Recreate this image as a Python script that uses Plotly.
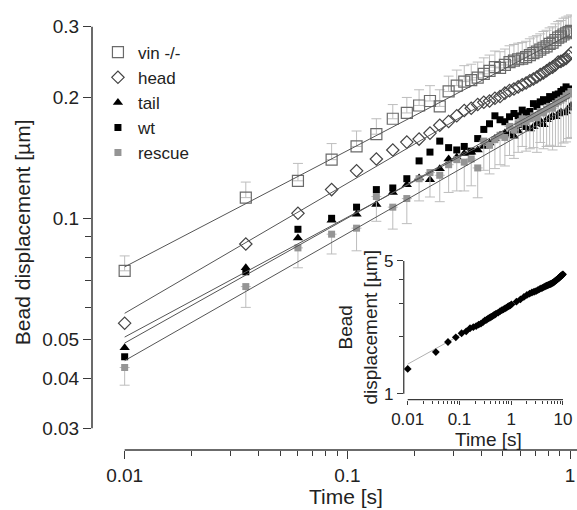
import math
import plotly.graph_objects as go

# ---------------- data ----------------
t_main = [0.01, 0.035, 0.06, 0.085, 0.11, 0.135, 0.16, 0.185, 0.21, 0.235, 0.26, 0.285, 0.31,
          0.335, 0.36, 0.385, 0.41, 0.435, 0.46, 0.485, 0.51, 0.535, 0.56, 0.585, 0.61, 0.635,
          0.66, 0.685, 0.71, 0.735, 0.76, 0.785, 0.81, 0.835, 0.86, 0.885, 0.91, 0.935, 0.96,
          0.985, 1.01]

vin = [0.074, 0.1126, 0.124, 0.140, 0.151, 0.162, 0.177, 0.183, 0.191, 0.196, 0.190, 0.207,
       0.214, 0.219, 0.221, 0.224, 0.229, 0.233, 0.238, 0.237, 0.241, 0.245, 0.247, 0.249,
       0.250, 0.252, 0.255, 0.258, 0.260, 0.263, 0.266, 0.268, 0.272, 0.274, 0.278, 0.282,
       0.284, 0.287, 0.289, 0.291, 0.293]
vin_err = [0.0066, 0.0105, 0.013, 0.0135, 0.014, 0.015, 0.015, 0.017, 0.018, 0.018, 0.019,
           0.019, 0.020, 0.021, 0.021, 0.021, 0.022, 0.022, 0.023, 0.023, 0.023, 0.024, 0.024,
           0.024, 0.024, 0.024, 0.025, 0.025, 0.025, 0.025, 0.026, 0.026, 0.026, 0.026, 0.027,
           0.027, 0.027, 0.028, 0.028, 0.028, 0.028]
head = [0.0548, 0.0863, 0.1029, 0.1179, 0.1313, 0.1405, 0.148, 0.1548, 0.1575, 0.163, 0.1705,
        0.1743, 0.180, 0.1856, 0.188, 0.192, 0.1945, 0.196, 0.199, 0.201, 0.205, 0.208, 0.210,
        0.2125, 0.215, 0.2174, 0.220, 0.2223, 0.225, 0.228, 0.2302, 0.233, 0.236, 0.238, 0.241,
        0.245, 0.246, 0.248, 0.250, 0.254, 0.258]
tail = [0.0476, 0.0753, 0.0893, 0.0989, 0.1023, 0.1083, 0.1159, 0.1212, 0.126, 0.1247, 0.1328,
        0.1405, 0.142, 0.145, 0.146, 0.148, 0.151, 0.154, 0.158, 0.161, 0.163, 0.162, 0.160,
        0.165, 0.170, 0.168, 0.167, 0.169, 0.172, 0.175, 0.171, 0.176, 0.178, 0.180, 0.179,
        0.182, 0.184, 0.183, 0.1845, 0.188, 0.191]
wt = [0.0452, 0.0736, 0.0939, 0.100, 0.1066, 0.1179, 0.119, 0.1255, 0.139, 0.1462, 0.1557,
      0.150, 0.148, 0.151, 0.147, 0.158, 0.1665, 0.172, 0.180, 0.176, 0.174, 0.179, 0.1824,
      0.180, 0.186, 0.183, 0.1845, 0.193, 0.190, 0.195, 0.1975, 0.196, 0.201, 0.199, 0.203,
      0.204, 0.207, 0.209, 0.2125, 0.210, 0.208]
rescue = [0.0425, 0.0676, 0.0844, 0.0913, 0.0945, 0.1133, 0.1066, 0.112, 0.1255, 0.130, 0.128,
          0.136, 0.140, 0.138, 0.1405, 0.1335, 0.1557, 0.152, 0.157, 0.161, 0.159, 0.1694,
          0.166, 0.172, 0.177, 0.174, 0.177, 0.180, 0.178, 0.1845, 0.183, 0.187, 0.190, 0.188,
          0.193, 0.195, 0.197, 0.199, 0.202, 0.204, 0.207]
rescue_err = [0.0041, 0.0076, 0.0091, 0.0098, 0.0115, 0.015, 0.0126, 0.015, 0.015, 0.017,
              0.018, 0.020, 0.023, 0.021, 0.020, 0.021, 0.024, 0.023, 0.024, 0.025, 0.024,
              0.026, 0.025, 0.026, 0.026, 0.027, 0.028, 0.030, 0.032, 0.030, 0.034, 0.036,
              0.038, 0.040, 0.042, 0.044, 0.046, 0.045, 0.047, 0.046, 0.048]

# power-law fit lines (end points)
fit_t = [0.01, 1.0]
vin_fit = [0.0757, 0.287]
head_fit = [0.058, 0.2576]
tail_fit = [0.0489, 0.205]
wt_fit = [0.0506, 0.200]
rescue_fit = [0.0442, 0.190]

# inset
inset_t = [0.01, 0.035, 0.06, 0.085, 0.11, 0.135,
           0.16, 0.185, 0.21, 0.235, 0.26, 0.285, 0.31, 0.335, 0.36, 0.385, 0.41, 0.435, 0.46,
           0.485, 0.51,
           0.56, 0.61, 0.66, 0.71, 0.76, 0.81, 0.86, 0.91, 0.96, 1.01,
           1.26, 1.51, 1.76, 2.01, 2.26, 2.51, 2.76, 3.01, 3.26, 3.51, 3.76, 4.01, 4.26, 4.51,
           4.76, 5.01, 5.26, 5.51, 5.76, 6.01, 6.26, 6.51, 6.76, 7.01, 7.26, 7.51, 7.76, 8.01,
           8.26, 8.51, 8.76, 9.01, 9.26, 9.51, 9.76, 10.01]
inset_v = [1.35, 1.655, 1.87, 1.98, 2.08, 2.13,
           2.21, 2.24, 2.27, 2.31, 2.34, 2.38, 2.43, 2.45, 2.49, 2.51, 2.54, 2.56, 2.59,
           2.61, 2.64,
           2.67, 2.72, 2.75, 2.78, 2.81, 2.84, 2.87, 2.90, 2.92, 2.95,
           3.05, 3.14, 3.23, 3.31, 3.36, 3.41, 3.44, 3.47, 3.51, 3.55, 3.58, 3.61, 3.64, 3.67,
           3.70, 3.72, 3.74, 3.76, 3.78, 3.80, 3.83, 3.85, 3.88, 3.91, 3.94, 3.97, 4.00, 4.03,
           4.06, 4.09, 4.12, 4.15, 4.18, 4.20, 4.23, 4.25]
inset_fit_t = [0.01, 10.0]
inset_fit = [1.43, 4.06]

x_ticks = [0.01, 0.1, 1]
x_ticktext = ["0.01", "0.1", "1"]
x_minor = [0.02, 0.03, 0.04, 0.05, 0.06, 0.07, 0.08, 0.09, 0.2, 0.3, 0.4, 0.5, 0.6, 0.7, 0.8, 0.9]
y_ticks = [0.03, 0.04, 0.05, 0.1, 0.2, 0.3]
y_ticktext = ["0.03", "0.04", "0.05", "0.1", "0.2", "0.3"]
y_minor = [0.06, 0.07, 0.08, 0.09]
ix_ticks = [0.01, 0.1, 1, 10]
ix_ticktext = ["0.01", "0.1", "1", "10"]
ix_minor = [0.02, 0.03, 0.04, 0.05, 0.06, 0.07, 0.08, 0.09, 0.2, 0.3, 0.4, 0.5, 0.6, 0.7, 0.8,
            0.9, 2, 3, 4, 5, 6, 7, 8, 9]
iy_ticks = [1, 5]
iy_ticktext = ["1", "5"]
iy_minor = [2, 3, 4]

# ---------------- style ----------------
FONT = "Liberation Sans, Arial, sans-serif"
AX = "#3a3a3a"
FITC = "#555555"
ERRC = "#bdbdbd"

fig = go.Figure()
zeros = [0] * len(t_main)

fig.add_trace(go.Scatter(
    x=t_main, y=vin, mode="markers", name="vin -/-",
    marker=dict(symbol="square-open", size=11, color="#6a6a6a", line=dict(width=1.2)),
    error_y=dict(type="data", symmetric=False, array=vin_err, arrayminus=zeros,
                 color=ERRC, thickness=1, width=5)))
fig.add_trace(go.Scatter(
    x=t_main, y=head, mode="markers", name="head",
    marker=dict(symbol="diamond-open", size=9.5, color="#444444", line=dict(width=1.2))))
fig.add_trace(go.Scatter(
    x=t_main, y=tail, mode="markers", name="tail",
    marker=dict(symbol="triangle-up", size=9, color="#000000")))
fig.add_trace(go.Scatter(
    x=t_main, y=wt, mode="markers", name="wt",
    marker=dict(symbol="square", size=7, color="#000000")))
fig.add_trace(go.Scatter(
    x=t_main, y=rescue, mode="markers", name="rescue",
    marker=dict(symbol="square", size=7, color="#959595"),
    error_y=dict(type="data", symmetric=False, array=zeros, arrayminus=rescue_err,
                 color=ERRC, thickness=1, width=5)))

for fy in [vin_fit, head_fit, tail_fit, wt_fit, rescue_fit]:
    fig.add_trace(go.Scatter(x=fit_t, y=fy, mode="lines", showlegend=False,
                             line=dict(color=FITC, width=1), hoverinfo="skip"))

# inset
fig.add_trace(go.Scatter(x=inset_fit_t, y=inset_fit, mode="lines", showlegend=False,
                         line=dict(color="#b0b0b0", width=1), xaxis="x2", yaxis="y2"))
fig.add_trace(go.Scatter(x=inset_t, y=inset_v, mode="markers", showlegend=False,
                         marker=dict(symbol="diamond", size=6, color="#000000"),
                         xaxis="x2", yaxis="y2"))

W, H = 577, 510
L, R, T, B = 92, 0, 0, 60
pw, ph = W - L - R, H - T - B


def px(xp):
    return (xp - L) / pw


def py(yp):
    return (H - B - yp) / ph


# main axes ranges (log)
x0 = -2 - 33 / 225
x1 = x0 + pw / 225
ytop = math.log10(0.3) + 22 / 406
ybot = ytop - ph / 406

# inset ranges
ix0 = -2 - 4 / 52.3
ix1 = -2 + (572 - 411) / 52.3
iy0 = -6 / 192
iy1 = (393 - 255) / 192


def frac(v, lo, hi):
    return (math.log10(v) - lo) / (hi - lo)


tickfont = dict(family=FONT, size=19, color="#222")
itickfont = dict(family=FONT, size=17, color="#222")

fig.update_layout(
    width=W, height=H,
    margin=dict(l=L, r=R, t=T, b=B),
    paper_bgcolor="white", plot_bgcolor="rgba(0,0,0,0)",
    font=dict(family=FONT, color="#222"),
    showlegend=True,
    legend=dict(x=px(98), y=py(30), xanchor="left", yanchor="top",
                font=dict(family=FONT, size=17, color="#222"),
                bgcolor="rgba(0,0,0,0)", itemwidth=30, tracegroupgap=0),
    xaxis=dict(type="log", range=[x0, x1], showgrid=False, zeroline=False, showline=False,
               tickvals=x_ticks, ticktext=x_ticktext, ticks="outside", ticklen=8,
               tickcolor=AX, tickwidth=1.3, tickfont=tickfont, ticklabeloverflow="allow",
               minor=dict(tickvals=x_minor, ticks="outside", ticklen=5, tickcolor=AX,
                          tickwidth=1.3, showgrid=False)),
    yaxis=dict(type="log", range=[ybot, ytop], showgrid=False, zeroline=False, showline=False,
               tickvals=y_ticks, ticktext=y_ticktext, ticks="outside", ticklen=8,
               tickcolor=AX, tickwidth=1.3, tickfont=tickfont, ticklabeloverflow="allow",
               minor=dict(tickvals=y_minor, ticks="outside", ticklen=6, tickcolor=AX,
                          tickwidth=1.3, showgrid=False)),
    xaxis2=dict(type="log", range=[ix0, ix1], domain=[px(407), px(572)], anchor="y2",
                showgrid=False, zeroline=False, showline=False,
                tickvals=ix_ticks, ticktext=ix_ticktext, ticks="outside", ticklen=4,
                tickcolor=AX, tickwidth=1.2, tickfont=itickfont, ticklabeloverflow="allow",
                minor=dict(tickvals=ix_minor, ticks="outside", ticklen=3, tickcolor=AX,
                           tickwidth=1, showgrid=False)),
    yaxis2=dict(type="log", range=[iy0, iy1], domain=[py(399), py(255)], anchor="x2",
                showgrid=False, zeroline=False, showline=False,
                tickvals=iy_ticks, ticktext=iy_ticktext, ticks="outside", ticklen=6,
                tickcolor=AX, tickwidth=1.2, tickfont=itickfont, ticklabeloverflow="allow",
                minor=dict(tickvals=iy_minor, ticks="outside", ticklen=4, tickcolor=AX,
                           tickwidth=1, showgrid=False)),
)

# detached axis lines (positions in domain fractions)
fig.add_shape(type="line", xref="paper", yref="paper", x0=0, x1=0,
              y0=frac(y_ticks[0], ybot, ytop), y1=frac(y_ticks[-1], ybot, ytop),
              line=dict(color=AX, width=1.5))
fig.add_shape(type="line", xref="paper", yref="paper", x0=frac(x_ticks[0], x0, x1), x1=1.05,
              y0=0, y1=0, line=dict(color=AX, width=1.5))
fig.add_shape(type="line", xref="x2 domain", yref="y2 domain", x0=0, x1=0,
              y0=frac(iy_ticks[0], iy0, iy1), y1=frac(iy_ticks[-1], iy0, iy1),
              line=dict(color=AX, width=1.3))
fig.add_shape(type="line", xref="x2 domain", yref="y2 domain",
              x0=frac(ix_ticks[0], ix0, ix1), x1=frac(ix_ticks[-1], ix0, ix1),
              y0=0, y1=0, line=dict(color=AX, width=1.3))

# titles
ann = dict(xref="paper", yref="paper", showarrow=False, xanchor="center", yanchor="middle")
fig.add_annotation(text="Bead displacement [µm]", x=px(22), y=py(230), textangle=-90,
                   font=dict(family=FONT, size=21, color="#222"), **ann)
fig.add_annotation(text="Time [s]", x=px(349), y=py(497),
                   font=dict(family=FONT, size=21, color="#222"), **ann)
fig.add_annotation(text="Time [s]", x=px(493), y=py(439),
                   font=dict(family=FONT, size=19, color="#222"), **ann)
fig.add_annotation(text="Bead<br>displacement [µm]", x=px(361), y=py(326), textangle=-90,
                   font=dict(family=FONT, size=19, color="#222"), **ann)

fig.write_html("out.html", config={"displayModeBar": False},
               post_script="document.body.style.margin='0';")
